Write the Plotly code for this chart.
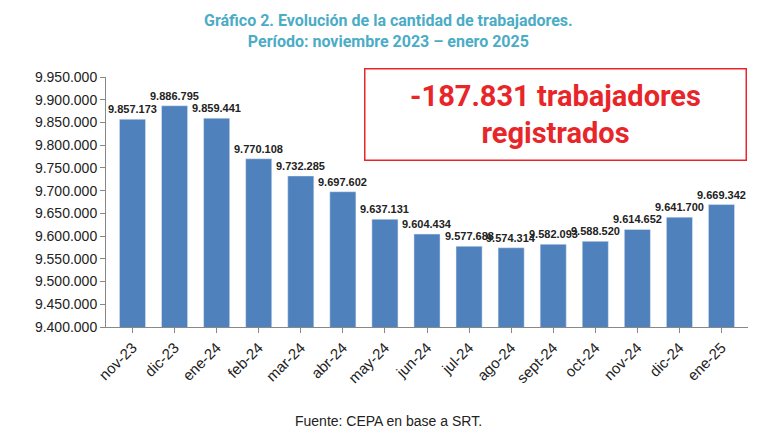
import plotly.graph_objects as go

meses = ["nov-23", "dic-23", "ene-24", "feb-24", "mar-24", "abr-24", "may-24", "jun-24",
         "jul-24", "ago-24", "sept-24", "oct-24", "nov-24", "dic-24", "ene-25"]
trabajadores = [9857173, 9886795, 9859441, 9770108, 9732285, 9697602, 9637131, 9604434,
                9577688, 9574314, 9582093, 9588520, 9614652, 9641700, 9669342]
ticks_y = list(range(9400000, 9950001, 50000))


def fmt(v):
    return f"{v:,}".replace(",", ".")


fig = go.Figure()
fig.add_trace(go.Bar(
    x=meses, y=trabajadores,
    marker_color="#4F81BD",
    width=0.62,
))

# etiquetas de valor como anotaciones (para que no se encojan)
etiquetas = [dict(x=m, y=v, text=f"<b>{fmt(v)}</b>", showarrow=False, yanchor="bottom",
                  yshift=2, font=dict(size=11, color="#222", family="Liberation Sans"))
             for m, v in zip(meses, trabajadores)]

fig.update_layout(
    width=767, height=448,
    margin=dict(l=98, r=27, t=69, b=129),
    plot_bgcolor="white", paper_bgcolor="white",
    showlegend=False,
    font=dict(family="Liberation Sans", color="#222"),
    xaxis=dict(tickangle=-45, tickfont=dict(size=15), showline=True, linecolor="#888",
               ticks="outside", ticklen=5, tickcolor="#888"),
    yaxis=dict(range=[9400000, 9950000], tickvals=ticks_y, ticktext=[fmt(v) for v in ticks_y],
               tickfont=dict(size=14), showgrid=False, showline=True, linecolor="#888",
               ticks="outside", ticklen=5, tickcolor="#888", zeroline=False),
    annotations=etiquetas + [
        dict(text="<b>Gráfico 2. Evolución de la cantidad de trabajadores.<br>Período: noviembre 2023 – enero 2025</b>",
             xref="paper", yref="paper", x=0.44, y=1.0, yshift=68, yanchor="top",
             showarrow=False, font=dict(size=16, color="#4BACC6", family="Roboto")),
        dict(text="<b>-187.831 trabajadores<br>registrados</b>",
             xref="paper", yref="paper", x=0.70, y=0.852, xanchor="center", yanchor="middle",
             showarrow=False, font=dict(size=29, color="#E8262A", family="Roboto"),
             bordercolor="#E8262A", borderwidth=1.5, borderpad=0, bgcolor="white",
             width=380, height=90),
        dict(text="Fuente: CEPA en base a SRT.", xref="paper", yref="paper",
             x=0.44, y=0, yshift=-84, yanchor="top", showarrow=False,
             font=dict(size=14, color="#222")),
    ],
)

fig.write_html("out.html")
